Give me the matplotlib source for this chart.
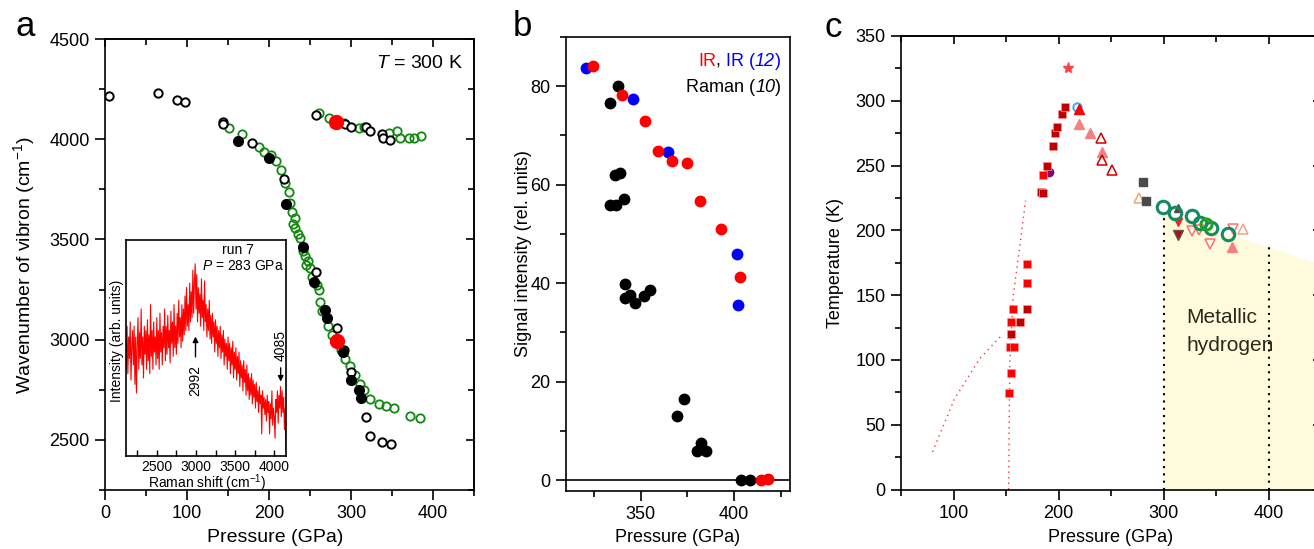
import numpy as np
import matplotlib
matplotlib.use("Agg")
import matplotlib.pyplot as plt
from matplotlib.ticker import MultipleLocator

plt.rcParams['font.family'] = ['Liberation Sans', 'DejaVu Sans']
plt.rcParams['mathtext.fontset'] = 'custom'
plt.rcParams['mathtext.rm'] = 'Liberation Sans'
plt.rcParams['mathtext.it'] = 'Liberation Sans:italic'
plt.rcParams['axes.linewidth'] = 1.2

# ---------------- panel a data ----------------
a_green_P = [151.8, 166.9, 188.4, 194.1, 202.7, 208.8, 214.5, 219.8, 223.8, 225.9, 228.0, 231.2, 228.7,
             232.0, 234.8, 238.0, 240.9, 244.2, 247.5, 245.4, 249.5, 252.4, 258.5, 260.5, 262.5, 264.5,
             271.9, 276.8, 280.5, 288.0, 293.0, 299.0, 305.0, 311.4, 315.4, 323.6, 333.7, 343.1, 352.9,
             371.6, 384.6,
             260.5, 272.7, 291.0, 309.3, 315.4, 346.0, 356.0, 360.2, 370.4, 376.4, 385.5]
a_green_W = [4055, 4025, 3960, 3935, 3922, 3892, 3847, 3781, 3739, 3684, 3639, 3606, 3578,
             3556, 3528, 3506, 3440, 3415, 3393, 3373, 3357, 3315, 3274, 3249, 3190, 3141,
             3069, 3024, 2990, 2950, 2903, 2870, 2825, 2780, 2747, 2704, 2679, 2667, 2659,
             2621, 2609,
             4130, 4105, 4080, 4055, 4060, 4030, 4041, 4005, 4008, 4008, 4016]
a_open_P = [5, 65, 88, 98, 143.5, 144.5, 179, 217.7, 257.6, 282.9, 291.8, 300.4, 318.7, 323.6, 337.8,
            348.8, 257, 293, 300, 318.7, 323.6, 337.8, 339, 348]
a_open_W = [4216, 4232, 4197, 4184, 4088, 4076, 3980, 3801, 3337, 3058, 2950, 2841, 2614, 2521, 2488,
            2481, 4121, 4076, 4063, 4063, 4041, 4026, 4008, 3997]
a_fill_P = [162.4, 200.6, 220.6, 241.4, 255.2, 268.8, 270.7, 290.2, 300.4, 309.3, 312.2]
a_fill_W = [3993, 3907, 3676, 3462, 3290, 3149, 3108, 2936, 2797, 2750, 2709]
a_red_P = [282.0, 282.9]
a_red_W = [4088, 2991]

# inset spectrum (run 7, P = 283 GPa), Raman shift 2100..4150 cm-1 every 10 cm-1
inset_shift = np.arange(2100, 4151, 10)
inset_int = [
    0.52, 0.40, 0.60, 0.38, 0.55, 0.45, 0.62, 0.35, 0.50, 0.58,
    0.42, 0.60, 0.33, 0.55, 0.29, 0.52, 0.64, 0.40, 0.57, 0.45,
    0.68, 0.42, 0.55, 0.36, 0.60, 0.47, 0.58, 0.40, 0.63, 0.44,
    0.56, 0.38, 0.70, 0.46, 0.58, 0.40, 0.62, 0.48, 0.55, 0.42,
    0.64, 0.45, 0.58, 0.40, 0.66, 0.48, 0.57, 0.42, 0.60, 0.50,
    0.68, 0.44, 0.60, 0.47, 0.65, 0.50, 0.58, 0.43, 0.67, 0.52,
    0.62, 0.46, 0.70, 0.50, 0.60, 0.47, 0.66, 0.52, 0.72, 0.55,
    0.64, 0.50, 0.70, 0.53, 0.68, 0.56, 0.74, 0.58, 0.78, 0.60,
    0.70, 0.58, 0.80, 0.62, 0.76, 0.64, 0.86, 0.66, 0.80, 0.89,
    0.68, 0.84, 0.62, 0.78, 0.66, 0.75, 0.60, 0.82, 0.64, 0.72,
    0.58, 0.81, 0.62, 0.70, 0.55, 0.68, 0.58, 0.72, 0.54, 0.65,
    0.52, 0.66, 0.55, 0.62, 0.48, 0.63, 0.52, 0.60, 0.46, 0.58,
    0.50, 0.60, 0.45, 0.56, 0.48, 0.58, 0.42, 0.54, 0.46, 0.52,
    0.40, 0.55, 0.44, 0.52, 0.38, 0.50, 0.42, 0.53, 0.36, 0.48,
    0.40, 0.50, 0.35, 0.46, 0.38, 0.48, 0.32, 0.44, 0.36, 0.42,
    0.30, 0.44, 0.34, 0.40, 0.28, 0.42, 0.30, 0.38, 0.26, 0.36,
    0.28, 0.38, 0.24, 0.35, 0.27, 0.33, 0.22, 0.34, 0.25, 0.30,
    0.20, 0.32, 0.24, 0.28, 0.10, 0.30, 0.22, 0.27, 0.19, 0.26,
    0.16, 0.28, 0.20, 0.25, 0.10, 0.24, 0.17, 0.30, 0.14, 0.22,
    0.18, 0.08, 0.26, 0.20, 0.30, 0.15, 0.28, 0.22, 0.32, 0.18,
    0.30, 0.20, 0.27, 0.12, 0.22, 0.03]

# ---------------- panel b data ----------------
b_blue_P = [320.5, 345.7, 364.6, 401.4, 402.2]
b_blue_I = [83.7, 77.4, 66.6, 45.9, 35.6]
b_red_P = [324.4, 340.0, 352.5, 359.3, 366.6, 374.8, 381.8, 393.2, 403.4, 414.7, 418.2]
b_red_I = [84.1, 78.2, 72.9, 66.9, 64.9, 64.4, 56.7, 51.0, 41.2, 0.0, 0.2]
b_black_P = [333.8, 337.7, 336.4, 338.7, 333.4, 337.0, 340.9, 341.6, 341.6, 344.1, 346.8, 351.6, 355.0,
             369.7, 373.0, 382.5, 380.2, 384.8, 403.6, 408.8]
b_black_I = [76.5, 80.0, 61.9, 62.4, 55.9, 55.9, 57.1, 39.9, 37.0, 37.7, 36.0, 37.4, 38.7,
             13.0, 16.5, 7.6, 6.0, 6.0, 0.0, 0.0]

# ---------------- panel c data ----------------
c_sqred_P = [152.7, 155.2, 153.6, 157.4, 155.2, 157.1, 169.8, 169.8, 184.8]
c_sqred_T = [74.7, 90.2, 110.3, 110.3, 129.5, 139.6, 159.7, 173.8, 242.8]
c_sqdark_P = [154.3, 163.8, 169.8, 183.8, 185.0, 189.5, 194.6, 196.5, 198.4, 203.8, 206.0]
c_sqdark_T = [119.8, 129.5, 139.6, 229.7, 229.0, 249.7, 265.4, 274.9, 280.0, 290.0, 294.9]
c_purple_P, c_purple_T = [190.5], [244.9]
c_star_P, c_star_T = [208.6], [325.2]
c_blue_P, c_blue_T = [217.4], [294.9]
c_trired_P, c_trired_T = [219.6], [293.5]
c_trisalmon_P = [219.6, 229.8, 241.9, 364.8]
c_trisalmon_T = [281.9, 275.2, 260.8, 187.5]
c_tridarkopen_P = [240.0, 241.9, 251.4]
c_tridarkopen_T = [271.6, 254.1, 246.5]
c_triorange_P = [276.5, 376.0]
c_triorange_T = [224.6, 201.0]
c_sqgrey_P = [280.6, 283.8]
c_sqgrey_T = [237.0, 222.8]
c_trigrey_P, c_trigrey_T = [313.6], [217.0]
c_tridownred_P, c_tridownred_T = [313.6], [206.7]
c_tridownbrown_P, c_tridownbrown_T = [313.6], [196.5]
c_tridownopen_P = [327.3, 333.7, 344.2, 366.5]
c_tridownopen_T = [199.5, 200.3, 189.3, 201.0]
c_green_P = [299.6, 311.4, 326.9, 334.5, 345.7, 361.9]
c_green_T = [217.8, 213.2, 211.1, 206.0, 202.1, 197.0]
c_green2_P, c_green2_T = [340.9], [205.0]
c_dot1_P = [80, 101, 125, 147]
c_dot1_T = [29, 70, 101, 120]
c_dot2_P = [152.5, 153.0, 153.6, 156.8, 163.0, 168.6]
c_dot2_T = [0, 50, 97, 149, 187, 223]
c_metal_P = [300, 300, 311, 327, 345, 362, 450, 450]
c_metal_T = [0, 214, 211, 209, 202, 197, 173.5, 0]

W, H = 1314, 549
fig = plt.figure(figsize=(W / 100, H / 100), dpi=100)


def add_ax(l, t, r, b):
    return fig.add_axes([l / W, 1 - b / H, (r - l) / W, (b - t) / H])


def style(ax, xmaj, xmin, ymaj, ymin, mirror=True, ls=13):
    ax.xaxis.set_major_locator(MultipleLocator(xmaj))
    ax.xaxis.set_minor_locator(MultipleLocator(xmin))
    ax.yaxis.set_major_locator(MultipleLocator(ymaj))
    ax.yaxis.set_minor_locator(MultipleLocator(ymin))
    ax.tick_params(which='major', direction='out', length=7, width=1.2, labelsize=ls, pad=4)
    ax.tick_params(which='minor', direction='out', length=4, width=1.2)
    if mirror:
        sx = ax.secondary_xaxis('top')
        sx.xaxis.set_major_locator(MultipleLocator(xmaj))
        sx.xaxis.set_minor_locator(MultipleLocator(xmin))
        sx.tick_params(which='both', direction='in', labeltop=False, width=1.2)
        sx.tick_params(which='major', length=6)
        sx.tick_params(which='minor', length=4)
        sy = ax.secondary_yaxis('right')
        sy.yaxis.set_major_locator(MultipleLocator(ymaj))
        sy.yaxis.set_minor_locator(MultipleLocator(ymin))
        sy.tick_params(which='both', direction='in', labelright=False, width=1.2)
        sy.tick_params(which='major', length=6)
        sy.tick_params(which='minor', length=4)


# ================= panel a =================
axa = add_ax(105, 39, 474, 490)
axa.set_xlim(0, 450)
axa.set_ylim(2250, 4500)
style(axa, 100, 50, 500, 250)
axa.plot(a_green_P, a_green_W, 'o', ms=6, mfc='none', mec='#118811', mew=1.3, zorder=3)
axa.plot(a_open_P, a_open_W, 'o', ms=6, mfc='white', mec='black', mew=1.4, zorder=4)
axa.plot(a_fill_P, a_fill_W, 'o', ms=7, mfc='black', mec='black', zorder=5)
axa.plot(a_red_P, a_red_W, 'o', ms=10, mfc='#ff0000', mec='#ff0000', zorder=6)
axa.text(0.970, 0.946, '$T$ = 300 K', transform=axa.transAxes, ha='right', va='center', fontsize=14)

# inset
axi = add_ax(125.5, 240, 286, 455.5)
axi.set_xlim(2100, 4150)
axi.set_ylim(0, 1)
axi.plot(inset_shift, inset_int, color='#ff0000', lw=0.8)
axi.xaxis.set_major_locator(MultipleLocator(500))
axi.xaxis.set_minor_locator(MultipleLocator(250))
axi.set_yticks([])
axi.tick_params(axis='x', which='both', direction='in', length=4, width=1.0, labelsize=10, pad=3)
for s in axi.spines.values():
    s.set_linewidth(1.2)
axi.text(0.70, 0.955, 'run 7', transform=axi.transAxes, ha='center', va='center', fontsize=10)
axi.text(0.988, 0.878, '$P$ = 283 GPa', transform=axi.transAxes, ha='right', va='center', fontsize=10)
axi.annotate('', xy=(2994, 0.565), xytext=(2994, 0.445),
             arrowprops=dict(arrowstyle='-|>', color='black', lw=1.0, mutation_scale=8))
axi.text(2994, 0.35, '2992', rotation=90, ha='center', va='center', fontsize=10)
axi.annotate('', xy=(4082, 0.33), xytext=(4082, 0.42),
             arrowprops=dict(arrowstyle='-|>', color='black', lw=1.0, mutation_scale=8))
axi.text(4078, 0.51, '4085', rotation=90, ha='center', va='center', fontsize=10)
fig.text(117 / W, 1 - 341 / H, 'Intensity (arb. units)', rotation=90, ha='center', va='center', fontsize=10)
fig.text(206.7 / W, 1 - 483 / H, 'Raman shift (cm$^{-1}$)', ha='center', va='center', fontsize=10)

fig.text(24 / W, 1 - 265 / H, 'Wavenumber of vibron (cm$^{-1}$)', rotation=90, ha='center', va='center', fontsize=14)
fig.text(275 / W, 1 - 538 / H, 'Pressure (GPa)', ha='center', va='center', fontsize=14)
fig.text(25 / W, 1 - 36.5 / H, 'a', ha='center', va='baseline', fontsize=25)

# ================= panel b =================
axb = add_ax(566, 37, 790, 491)
axb.set_xlim(310, 430)
axb.set_ylim(-2.2, 90)
style(axb, 50, 25, 20, 10, mirror=False)
axb.axhline(0, color='black', lw=1.2, zorder=1)
axb.plot(b_black_P, b_black_I, 'o', ms=7.5, color='black', zorder=3)
axb.plot(b_blue_P, b_blue_I, 'o', ms=7.5, color='#0000ff', zorder=4)
axb.plot(b_red_P, b_red_I, 'o', ms=7.5, color='#ff0000', zorder=5)


def chain(ax, x, y, parts, fs=13):
    t = ax.text(x, y, parts[0][0], color=parts[0][1], style=parts[0][2], transform=ax.transAxes,
                ha='left', va='baseline', fontsize=fs)
    for s, c, st in parts[1:]:
        t = ax.annotate(s, xy=(1, 0), xycoords=t, color=c, style=st, ha='left', va='bottom', fontsize=fs)


chain(axb, (698 - 566) / 224, (491 - 66) / 454,
      [('IR', '#ff0000', 'normal'), (', ', 'black', 'normal'), ('IR (', '#0000ff', 'normal'),
       ('12', '#0000ff', 'italic'), (')', '#0000ff', 'normal')])
chain(axb, (686 - 566) / 224, (491 - 92) / 454,
      [('Raman (', 'black', 'normal'), ('10', 'black', 'italic'), (')', 'black', 'normal')])

fig.text(523 / W, 1 - 254 / H, 'Signal intensity (rel. units)', rotation=90, ha='center', va='center', fontsize=13)
fig.text(677.5 / W, 1 - 538 / H, 'Pressure (GPa)', ha='center', va='center', fontsize=13)
fig.text(522 / W, 1 - 36.5 / H, 'b', ha='center', va='baseline', fontsize=25)

# ================= panel c =================
axc = add_ax(901, 36, 1321, 489.5)
axc.set_xlim(50, 450)
axc.set_ylim(0, 350)
style(axc, 100, 50, 50, 25)
axc.fill(c_metal_P, c_metal_T, color='#fffbdc', lw=0, zorder=0)
axc.plot([300, 300], [0, 210], color='black', lw=1.5, ls=(0, (1, 2.5)), zorder=1)
axc.plot([400, 400], [0, 187.5], color='black', lw=1.5, ls=(0, (1, 2.5)), zorder=1)
axc.plot(c_dot1_P, c_dot1_T, color='#ff3030', lw=1.0, ls=(0, (1, 3)), zorder=1)
axc.plot(c_dot2_P, c_dot2_T, color='#ff3030', lw=1.0, ls=(0, (1, 3)), zorder=1)
axc.plot(c_purple_P, c_purple_T, 'o', ms=6, color='#7a0a7a', zorder=2)
axc.plot(c_sqred_P, c_sqred_T, 's', ms=6, mfc='#ff0000', mec='#ff9090', mew=0.5, zorder=3)
axc.plot(c_sqdark_P, c_sqdark_T, 's', ms=6, mfc='#c00000', mec='#ff9090', mew=0.5, zorder=3)
axc.plot(c_star_P, c_star_T, '*', ms=8, color='#ff4040', zorder=3)
axc.plot(c_blue_P, c_blue_T, 'o', ms=6, mfc='none', mec='#44aaff', mew=1.5, zorder=3)
axc.plot(c_trired_P, c_trired_T, '^', ms=7, color='#ff0000', zorder=4)
axc.plot(c_trisalmon_P, c_trisalmon_T, '^', ms=7, color='#f48080', zorder=3)
axc.plot(c_tridarkopen_P, c_tridarkopen_T, '^', ms=6.5, mfc='none', mec='#cc0000', mew=1.1, zorder=3)
axc.plot(c_triorange_P, c_triorange_T, '^', ms=7, mfc='none', mec='#f5a37a', mew=1.1, zorder=3)
axc.plot(c_sqgrey_P, c_sqgrey_T, 's', ms=6, color='#4a4a4a', zorder=3)
axc.plot(c_trigrey_P, c_trigrey_T, '^', ms=6, color='#5a4a4a', zorder=3)
axc.plot(c_tridownred_P, c_tridownred_T, 'v', ms=6, color='#ff2020', zorder=3)
axc.plot(c_tridownbrown_P, c_tridownbrown_T, 'v', ms=6.5, mfc='#b01010', mec='#6a5050', zorder=3)
axc.plot(c_tridownopen_P, c_tridownopen_T, 'v', ms=7, mfc='none', mec='#ff7070', mew=1.1, zorder=3)
axc.plot(c_green_P, c_green_T, 'o', ms=9, mfc='none', mec='#138a66', mew=2.2, zorder=5)
axc.plot(c_green2_P, c_green2_T, 'o', ms=8, mfc='none', mec='#22a022', mew=2.2, zorder=6)
axc.text(322, 132.5, 'Metallic', ha='left', va='center', fontsize=15, color='#2a2a1a')
axc.text(322, 111.5, 'hydrogen', ha='left', va='center', fontsize=15, color='#2a2a1a')

fig.text(836 / W, 1 - 263.5 / H, 'Temperature (K)', rotation=90, ha='center', va='center', fontsize=13)
fig.text(1111 / W, 1 - 538 / H, 'Pressure (GPa)', ha='center', va='center', fontsize=13)
fig.text(833 / W, 1 - 37 / H, 'c', ha='center', va='baseline', fontsize=25)

fig.savefig('out.png', dpi=100)
